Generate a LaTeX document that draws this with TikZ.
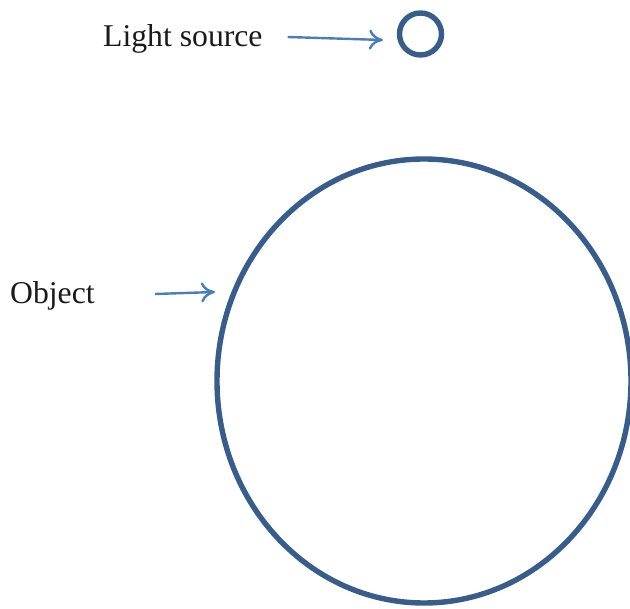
\documentclass[tikz,border=0pt]{standalone}
\usepackage{fontspec}
\setmainfont{Liberation Serif}
\usetikzlibrary{shapes.geometric,arrows.meta}
\definecolor{shapeblue}{HTML}{385D8A}
\definecolor{arrowblue}{HTML}{4A7EBB}
\definecolor{txt}{HTML}{1A1A1A}
\tikzset{
  lbl/.style={anchor=base west, inner sep=0pt, text=txt, font=\fontsize{31.7}{38}\selectfont},
  pointer/.style={draw=arrowblue, line width=2.4pt, -{To[length=14pt,width=20pt,line width=2.4pt]}},
  outline/.style={draw=shapeblue, line width=5.4pt, inner sep=0pt}
}
\begin{document}
\begin{tikzpicture}[x=1pt,y=-1pt]
\useasboundingbox (0,0) rectangle (630,609);
\clip (0,0) rectangle (630,609);
\node[outline, circle, minimum size=42pt] (src) at (420.5,34) {};
\node[outline, ellipse, minimum width=414pt, minimum height=444pt] (obj) at (424,381) {};
\node[lbl] (srclbl) at (103,47) {Light source};
\node[lbl] (objlbl) at (10,304) {Object};
\coordinate (srctip) at (383,40);
\coordinate (objtip) at (215,292);
\draw[pointer] ([xshift=25pt]srclbl.east |- 0,37) -- (srctip);
\draw[pointer] ([xshift=60pt]objlbl.east |- 0,294) -- (objtip);
\end{tikzpicture}
\end{document}
